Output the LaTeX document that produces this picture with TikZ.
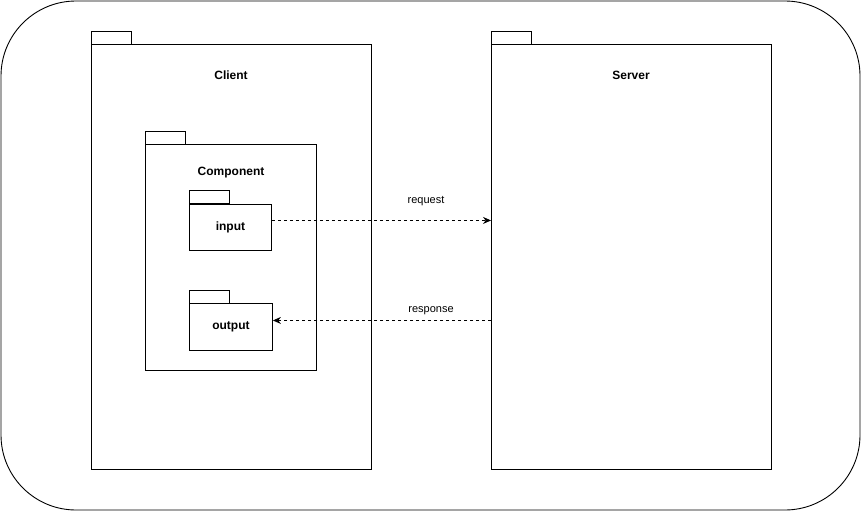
\documentclass[tikz,border=0pt]{standalone}
\usepackage{fontspec}
\setmainfont{Liberation Sans}
\usetikzlibrary{arrows.meta}
\begin{document}
\begin{tikzpicture}[x=1pt,y=-1pt,line width=0.9pt,
  pkgtab/.style={draw,inner sep=0pt,minimum width=40pt,minimum height=13pt},
  pkgbody/.style={draw,inner sep=0pt},
  title/.style={font=\bfseries\fontsize{12}{14}\selectfont},
  msg/.style={font=\fontsize{11}{13}\selectfont},
  link/.style={dashed,dash pattern=on 3pt off 3pt,-{Stealth[length=8pt,width=7pt]}}]
\useasboundingbox (0,0) rectangle (861,511);
% outer frame
\draw[rounded corners=75pt] (1,1) rectangle (860,510);
% Client package
\node[pkgtab,anchor=north west] (ctab) at (91,31) {};
\node[pkgbody,anchor=north west,minimum width=280pt,minimum height=425pt] (client) at (91,44) {};
\node[title] (clientlbl) at (231,75) {Client};
% Server package
\node[pkgtab,anchor=north west] (stab) at (491,31) {};
\node[pkgbody,anchor=north west,minimum width=280pt,minimum height=425pt] (server) at (491,44) {};
\node[title] (serverlbl) at (631,75) {Server};
% Component package
\node[pkgtab,anchor=north west] (comptab) at (145,131) {};
\node[pkgbody,anchor=north west,minimum width=171pt,minimum height=226pt] (comp) at (145,144) {};
\node[title] (complbl) at (231,173) {Component};
% input package
\node[pkgtab,anchor=north west] (intab) at (189,190) {};
\node[pkgbody,anchor=north west,minimum width=82pt,minimum height=46pt,title] (input) at (189,204) {input};
% output package
\node[pkgtab,anchor=north west] (outtab) at (189,290) {};
\node[pkgbody,anchor=north west,minimum width=83pt,minimum height=47pt,title] (output) at (189,303) {output};
% messages, drawn a little above the middle of the inner packages
\coordinate (reqstart) at ([yshift=7pt]input.east);
\coordinate (reqend) at (server.west |- reqstart);
\coordinate (respend) at ([yshift=6.5pt]output.east);
\coordinate (respstart) at (server.west |- respend);
\draw[link] (reqstart) -- (reqend);
\draw[link] (respstart) -- (respend);
\node[msg] (reqlbl) at (426,201) {request};
\node[msg] (resplbl) at (431,311) {response};
\end{tikzpicture}
\end{document}
